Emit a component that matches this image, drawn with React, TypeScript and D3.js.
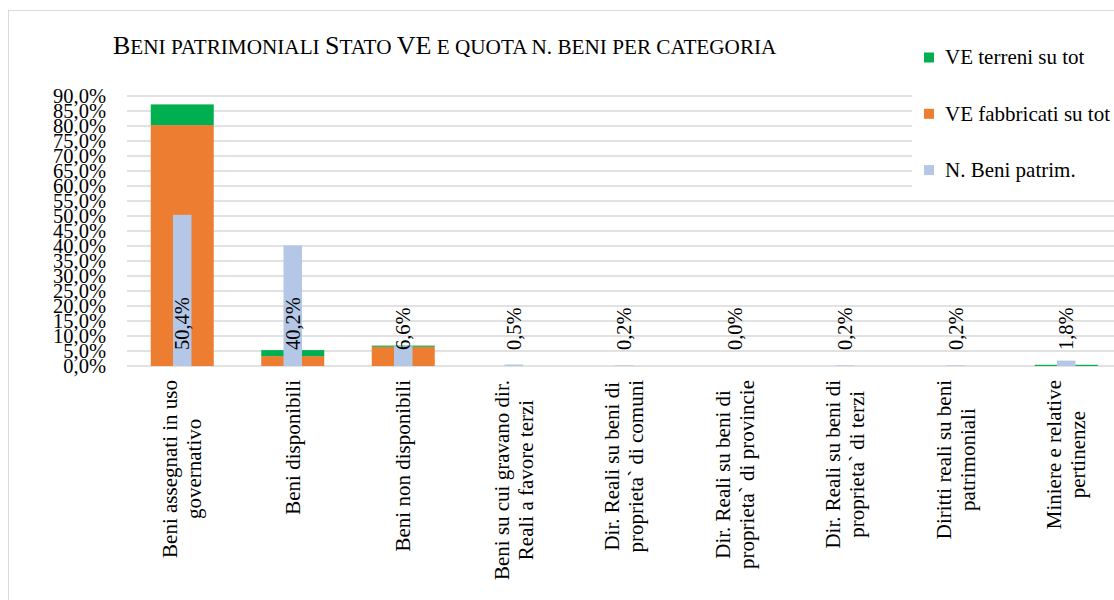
import React from "react";
import * as d3 from "d3";

const categories: string[][] = [
  ["Beni assegnati in uso", "governativo"],
  ["Beni disponibili"],
  ["Beni non disponibili"],
  ["Beni su cui gravano dir.", "Reali a favore terzi"],
  ["Dir. Reali su beni di", "proprieta` di comuni"],
  ["Dir. Reali su beni di", "proprieta` di provincie"],
  ["Dir. Reali su beni di", "proprieta` di terzi"],
  ["Diritti reali su beni", "patrimoniali"],
  ["Miniere e relative", "pertinenze"],
];
const veFabbricati = [0.803, 0.033, 0.064, 0, 0, 0, 0, 0, 0];
const veTerreni = [0.069, 0.02, 0.004, 0, 0, 0, 0, 0, 0.004];
const nBeni = [0.504, 0.402, 0.066, 0.005, 0.002, 0.0, 0.002, 0.002, 0.018];
const yTicks = d3.range(0, 0.9001, 0.05);
const legendItems = [
  { label: "VE terreni su tot", color: "#00b050" },
  { label: "VE fabbricati su tot", color: "#ed7d31" },
  { label: "N. Beni patrim.", color: "#b4c7e7" },
];

const FONT = "'Liberation Serif', 'Times New Roman', serif";
const fmt = (v: number) => (v * 100).toFixed(1).replace(".", ",") + "%";

let ctx: CanvasRenderingContext2D | null = null;
function measure(text: string, size: number) {
  if (!ctx) ctx = document.createElement("canvas").getContext("2d");
  if (!ctx) return text.length * size * 0.45;
  ctx.font = `${size}px 'Liberation Serif'`;
  return ctx.measureText(text).width;
}

export default function App() {
  const W = 1114;
  const H = 600;
  const plotLeft = 127;
  const band = 110.5;
  const x = d3
    .scaleBand<number>()
    .domain(d3.range(categories.length))
    .range([plotLeft, plotLeft + band * categories.length])
    .paddingInner(0)
    .paddingOuter(0);
  const y = d3.scaleLinear().domain([0, 0.9]).range([366, 96]);
  const barW = 63;
  const blueW = 18.5;
  const catFont = 21;
  const lh = 24;

  return (
    <svg
      width={W}
      height={H}
      style={{ position: "absolute", left: 0, top: 0, background: "#fff" }}
      fontFamily={FONT}
    >
      <rect x={8.5} y={10.5} width={1200} height={700} fill="#fff" stroke="#d9d9d9" strokeWidth={1} />
      {yTicks.map((t, i) => (
        <line
          key={"g" + i}
          x1={plotLeft}
          x2={W + 20}
          y1={y(t)}
          y2={y(t)}
          stroke="#d9d9d9"
          strokeWidth={1.3}
        />
      ))}
      {yTicks.map((t, i) => (
        <text
          key={"yl" + i}
          x={106}
          y={y(t)}
          dy="0.33em"
          textAnchor="end"
          fontSize={20.5}
          fill="#000"
        >
          {fmt(t)}
        </text>
      ))}
      {categories.map((_, i) => {
        const cx = (x(i) as number) + x.bandwidth() / 2;
        const f = veFabbricati[i];
        const t = veTerreni[i];
        return (
          <g key={"b" + i}>
            {f > 0 && (
              <rect x={cx - barW / 2} width={barW} y={y(f)} height={y(0) - y(f)} fill="#ed7d31" />
            )}
            {t > 0 && (
              <rect x={cx - barW / 2} width={barW} y={y(f + t)} height={y(f) - y(f + t)} fill="#00b050" />
            )}
            {nBeni[i] > 0 && (
              <rect
                x={cx - blueW / 2}
                width={blueW}
                y={y(nBeni[i])}
                height={y(0) - y(nBeni[i])}
                fill="#b4c7e7"
              />
            )}
          </g>
        );
      })}
      {categories.map((_, i) => {
        const cx = (x(i) as number) + x.bandwidth() / 2;
        return (
          <text
            key={"dl" + i}
            transform={`translate(${cx},350) rotate(-90)`}
            dy="0.33em"
            textAnchor="start"
            fontSize={20.5}
            fill="#000"
          >
            {fmt(nBeni[i])}
          </text>
        );
      })}
      {categories.map((lines, i) => {
        const cx = (x(i) as number) + x.bandwidth() / 2;
        const maxW = Math.max(...lines.map((l) => measure(l, catFont)));
        return (
          <g key={"cl" + i} transform={`translate(${cx},380) rotate(-90)`}>
            {lines.map((l, j) => (
              <text
                key={j}
                x={-maxW / 2}
                y={(j - (lines.length - 1) / 2) * lh}
                dy="0.33em"
                textAnchor="middle"
                fontSize={catFont}
                fill="#000"
              >
                {l}
              </text>
            ))}
          </g>
        );
      })}
      <text x={113} y={54} fill="#000">
        <tspan fontSize={26}>B</tspan>
        <tspan fontSize={21.2}>ENI PATRIMONIALI </tspan>
        <tspan fontSize={26}>S</tspan>
        <tspan fontSize={21.2}>TATO </tspan>
        <tspan fontSize={26}>VE</tspan>
        <tspan fontSize={21.2}> E QUOTA N. BENI PER CATEGORIA</tspan>
      </text>
      <rect x={912} y={30} width={210} height={163} fill="#fff" />
      {legendItems.map((it, i) => {
        const cy = 57.5 + i * 56.3;
        return (
          <g key={"lg" + i}>
            <rect x={924} y={cy - 5} width={10} height={10} fill={it.color} />
            <text x={945} y={cy} dy="0.33em" fontSize={21} fill="#000">
              {it.label}
            </text>
          </g>
        );
      })}
    </svg>
  );
}
